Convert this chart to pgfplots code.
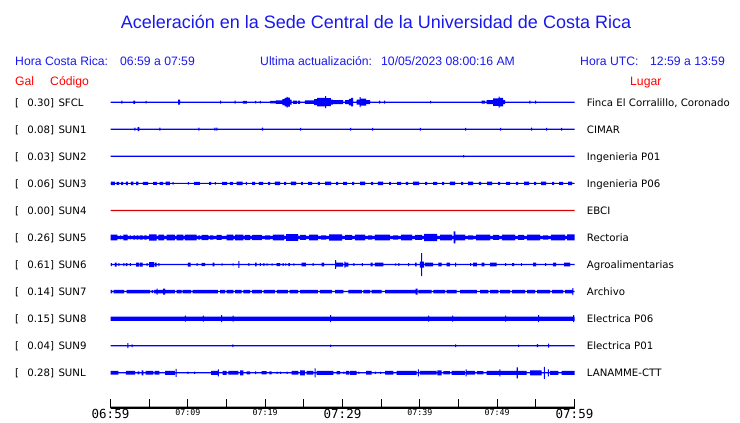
\documentclass[border=0pt]{standalone}
\usepackage{pgfplots}
\pgfplotsset{compat=1.18}
\usepackage{pgfplotstable}
\usepgfplotslibrary{fillbetween}
\usepackage{fontspec}
\setmainfont{DejaVu Sans}
\newfontfamily\lib{Liberation Sans}
\newfontfamily\dvm{DejaVu Sans Mono}
\definecolor{tb}{RGB}{0,0,255}
\definecolor{hb}{RGB}{25,25,235}
\definecolor{rd}{RGB}{255,0,0}
\definecolor{rl}{RGB}{215,0,0}

\pgfplotstableread{
t a
0 0.6
1.42 1.5
1.55 0.6
2.97 1.6
3.17 0.6
4.53 1.3
4.66 0.6
8.73 2.5
8.99 0.6
14.16 1.5
14.29 0.6
16.04 1.5
16.17 0.6
17.13 1.4
17.65 0.6
18.69 1.3
18.82 0.6
19.33 1.3
19.46 0.6
20.63 1.2
21.40 1.8
22.24 3.0
22.50 4.2
22.76 5.4
22.89 4.5
23.21 2.5
23.41 0.6
23.60 1.6
24.12 0.6
24.25 1.6
24.51 0.6
25.15 1.8
26.32 3.0
26.71 4.2
27.74 6.0
27.87 4.0
28.51 2.5
28.77 2.0
30.07 0.6
30.33 2.0
30.84 3.2
31.10 4.2
31.36 0.6
31.84 2.5
32.20 5.0
32.33 3.5
33.04 2.0
33.56 0.6
34.72 1.5
34.85 0.6
35.37 1.5
35.50 0.6
41.32 1.3
41.45 0.6
48.00 1.5
48.43 0.6
48.65 2.0
49.47 3.8
50.18 5.5
50.31 4.2
50.76 2.0
51.02 0.6
54.16 1.5
54.29 0.6
54.90 1.5
55.03 0.6
60 0.6
}\tSFCL

\pgfplotstableread{
t a
0 0.6
3.08 1.5
3.21 0.6
3.52 2.0
3.72 0.6
6.31 1.5
6.44 0.6
11.35 1.5
11.48 0.6
13.42 1.5
13.55 0.6
13.68 1.5
13.81 0.6
19.59 1.5
19.72 0.6
24.51 1.3
24.64 0.6
30.97 1.3
31.10 0.6
33.82 1.3
33.95 0.6
40.02 1.3
40.15 0.6
45.85 1.3
45.98 0.6
50.37 1.3
50.50 0.6
54.38 1.5
54.51 0.6
56.32 1.3
56.45 0.6
58.26 1.3
58.39 0.6
60 0.6
}\tSUNa

\pgfplotstableread{
t a
0 0.6
45.59 1.2
45.72 0.6
60 0.6
}\tSUNb

\pgfplotstableread{
t a
0 0.6
0.06 1.8
0.58 0.6
0.80 1.5
1.10 0.6
1.36 1.5
1.62 0.6
2.00 1.8
2.26 0.6
2.65 1.8
2.97 0.6
3.30 1.8
3.62 0.6
4.20 1.6
4.85 0.6
5.50 1.6
6.01 0.6
6.34 1.5
6.79 0.6
7.14 1.8
7.69 0.6
8.02 1.3
8.15 0.6
10.02 1.3
10.15 0.6
10.80 1.6
11.57 0.6
12.74 1.5
13.00 0.6
13.51 1.3
13.64 0.6
14.42 1.6
15.07 0.6
15.45 1.5
15.84 0.6
16.32 1.8
17.10 0.6
17.52 1.5
17.65 0.6
18.30 1.6
18.69 0.6
19.20 1.6
19.72 0.6
20.37 1.5
20.63 0.6
21.27 1.7
21.92 0.6
22.44 1.5
22.70 0.6
23.34 1.7
23.99 0.6
24.64 1.5
24.89 0.6
25.54 1.6
26.06 0.6
26.83 1.5
27.09 0.6
27.74 1.8
28.52 0.6
29.16 1.5
29.42 0.6
30.07 1.6
30.58 0.6
31.23 1.5
31.49 0.6
32.27 1.7
32.91 0.6
33.69 1.5
33.95 0.6
34.59 1.7
35.24 0.6
36.02 1.5
36.27 0.6
37.05 1.6
37.57 0.6
38.21 1.5
38.47 0.6
39.12 1.7
39.90 0.6
40.67 1.5
40.93 0.6
41.71 1.6
42.22 0.6
42.87 1.5
43.13 0.6
43.90 1.7
44.55 0.6
45.33 1.5
45.59 0.6
46.23 1.7
46.88 0.6
47.65 1.5
47.91 0.6
48.69 1.7
49.34 0.6
50.11 1.5
50.37 0.6
51.15 1.6
51.66 0.6
52.44 1.5
52.70 0.6
53.47 1.7
54.12 0.6
54.77 1.5
55.03 0.6
55.67 1.7
56.32 0.6
57.10 1.5
57.35 0.6
58.00 1.6
58.52 0.6
59.16 1.7
59.68 0.6
60 0.6
}\tSUNc

\pgfplotstableread{
t a
0 0.6
60 0.6
}\tSUNd

\pgfplotstableread{
t a
0 1.0
60 1.0
}\tAXIS

\pgfplotstableread{
t a
0 2.8
0.88 1.6
1.23 2.0
1.36 1.6
1.66 2.9
2.22 1.6
2.52 2.0
2.65 1.6
2.95 2.1
3.17 1.6
3.39 2.1
3.60 1.6
3.81 2.1
4.16 1.6
4.37 2.2
4.68 1.6
4.98 3.1
5.97 1.6
6.18 2.8
6.92 1.6
7.27 2.8
8.34 1.6
8.56 2.8
9.41 1.6
9.63 2.8
11.15 1.6
11.35 2.1
11.57 1.6
11.79 2.7
12.65 1.6
12.87 2.2
13.29 1.6
13.73 2.5
14.38 1.6
15.03 2.8
15.88 1.6
16.10 2.8
17.17 1.6
17.39 2.7
18.04 1.6
18.30 2.7
19.59 1.6
19.98 2.2
20.63 1.6
21.01 2.8
22.44 1.6
22.70 3.3
24.25 1.6
24.51 2.5
25.28 1.6
25.67 2.8
26.83 1.6
27.22 2.2
27.87 1.6
28.26 3.1
29.94 1.6
30.33 2.5
31.23 1.6
31.62 2.8
32.91 1.6
33.30 2.2
33.82 1.6
34.20 2.8
36.14 1.6
36.53 2.2
37.18 1.6
37.57 2.8
38.99 1.6
39.38 2.5
40.28 1.6
40.54 3.6
42.22 1.6
42.61 2.8
44.16 1.6
44.36 6.0
44.61 2.8
45.85 1.6
46.23 2.2
46.88 1.6
47.27 2.8
49.08 1.6
49.47 2.5
50.24 1.6
50.63 2.8
52.31 1.6
52.70 2.5
53.47 1.6
53.86 2.8
55.54 1.6
55.93 2.2
56.58 1.6
56.97 2.8
58.78 1.6
59.03 3.0
60 3.0
}\tSUNe

\pgfplotstableread{
t a
0 0.6
0.04 1.5
0.17 0.6
0.58 2.0
0.80 0.6
1.01 1.3
1.14 0.6
1.66 1.5
1.79 0.6
2.00 1.5
2.17 0.6
2.52 1.3
2.65 0.6
3.30 2.0
3.69 0.6
3.81 2.0
4.16 0.6
4.68 1.3
4.81 0.6
4.98 2.5
5.63 0.6
5.75 2.0
5.97 0.6
6.18 1.5
6.31 0.6
10.02 2.0
10.37 0.6
11.15 1.3
11.28 0.6
11.79 1.6
12.22 0.6
13.22 1.8
13.42 0.6
14.38 1.2
14.51 0.6
15.80 1.2
15.93 0.6
16.53 3.3
16.66 0.6
17.82 1.3
17.95 0.6
18.69 1.8
18.91 0.6
19.33 1.3
19.46 0.6
19.76 1.5
19.89 0.6
20.20 1.2
20.33 0.6
20.85 1.2
20.98 0.6
21.49 1.5
21.92 0.6
22.27 1.5
22.40 0.6
22.57 1.2
22.70 0.6
22.99 1.5
23.21 0.6
23.64 1.2
23.77 0.6
24.73 1.8
25.28 0.6
26.15 1.3
26.28 0.6
27.31 1.8
27.61 0.6
29.03 4.3
29.16 2.0
30.07 0.6
30.24 3.0
30.37 0.6
30.42 2.0
30.75 0.6
31.40 1.3
31.53 0.6
32.49 1.5
32.62 0.6
33.65 1.8
33.91 0.6
34.20 1.8
35.28 0.6
36.79 1.2
36.92 0.6
37.22 1.3
37.35 0.6
38.47 1.5
38.60 0.6
39.38 1.8
39.60 0.6
40.02 3.0
40.18 11.5
40.31 3.0
40.54 0.6
40.67 1.8
41.71 0.6
42.39 1.8
42.83 0.6
43.48 1.8
43.90 0.6
44.55 2.0
44.68 0.6
46.49 1.3
46.62 0.6
46.88 1.8
47.36 0.6
48.00 1.8
48.34 0.6
49.08 1.8
49.94 0.6
51.02 1.3
51.15 0.6
51.92 1.5
52.18 0.6
53.09 1.3
53.21 0.6
54.64 1.8
55.03 0.6
56.19 1.3
56.32 0.6
57.22 1.8
57.61 0.6
58.65 1.8
59.42 0.6
60 0.6
}\tSUNf

\pgfplotstableread{
t a
0 1.7
0.22 0.6
0.39 1.8
1.75 0.6
2.10 1.8
5.11 0.6
5.33 1.5
5.50 0.6
5.63 1.8
5.95 3.0
6.08 1.8
6.79 3.0
7.05 1.8
8.34 0.6
8.56 1.8
9.21 0.6
9.34 1.8
10.43 0.6
10.63 1.8
13.90 0.6
14.16 1.8
14.81 0.6
15.03 1.8
15.88 0.6
16.10 1.8
16.97 0.6
17.17 1.8
18.04 0.6
18.30 1.8
19.59 0.6
19.79 1.8
21.27 0.6
21.53 1.8
22.95 0.6
23.15 1.8
24.25 0.6
24.51 1.8
26.83 0.6
27.09 1.8
28.61 0.6
29.03 1.8
30.11 0.6
30.75 1.8
32.49 0.6
32.69 1.8
33.56 0.6
33.78 1.8
35.07 0.6
35.50 1.8
39.47 3.0
39.73 0.6
39.80 1.8
41.54 0.6
41.75 1.8
43.26 0.6
43.48 1.8
44.77 0.6
45.20 1.8
47.36 0.6
47.78 1.8
48.86 0.6
49.08 1.8
50.15 0.6
50.37 1.8
51.66 0.6
51.92 1.8
53.60 0.6
53.86 1.8
54.90 0.6
55.16 1.8
56.84 0.6
57.10 1.8
58.52 0.6
58.78 1.8
59.68 0.6
59.74 3.5
59.87 0.6
60 0.6
}\tSUNg

\pgfplotstableread{
t a
0 2.1
9.63 3.0
9.76 2.1
11.96 3.0
12.09 2.1
14.29 3.5
14.42 2.1
15.80 3.0
15.93 2.1
28.39 3.5
28.52 2.1
41.06 3.0
41.19 2.1
44.16 3.0
44.29 2.1
51.02 3.0
51.15 2.1
55.28 3.5
55.41 2.1
59.81 3.5
59.94 2.1
60 2.1
}\tSUNh

\pgfplotstableread{
t a
0 0.6
2.17 2.5
2.30 0.6
2.74 1.3
2.87 0.6
15.75 1.3
15.88 0.6
28.39 1.2
28.52 0.6
44.55 1.3
44.68 0.6
52.70 1.2
52.83 0.6
55.15 1.5
55.28 0.6
56.58 2.0
56.71 0.6
60 0.6
}\tSUNi

\pgfplotstableread{
t a
0 1.8
1.01 0.6
2.00 1.8
3.17 0.6
3.52 1.5
3.72 0.6
4.03 2.5
4.24 0.6
4.55 1.8
5.53 0.6
5.72 1.8
6.31 0.6
7.05 2.0
8.34 0.6
8.41 4.0
8.54 0.6
9.93 1.2
10.06 0.6
10.80 1.2
10.93 0.6
13.00 2.0
13.90 3.5
14.03 0.6
14.51 2.0
15.03 0.6
15.23 1.8
16.53 0.6
16.75 2.5
17.17 0.6
17.61 1.5
18.04 0.6
18.69 1.3
18.82 0.6
19.55 1.6
20.20 0.6
20.54 1.5
20.85 0.6
21.49 1.2
21.62 0.6
21.92 1.2
22.05 0.6
22.79 1.2
22.92 0.6
23.43 1.8
24.29 0.6
24.51 2.5
25.15 0.6
25.37 1.8
26.23 0.6
26.38 4.5
26.51 0.6
26.67 2.0
28.81 0.6
29.25 1.6
29.68 0.6
30.11 1.2
30.24 0.6
30.45 1.8
30.88 0.6
30.97 2.0
31.84 0.6
32.05 1.2
32.18 0.6
33.04 1.8
33.78 0.6
34.20 1.2
34.33 0.6
34.85 1.2
34.98 0.6
35.50 1.8
36.57 0.6
37.01 2.0
39.60 0.6
39.74 3.5
39.87 0.6
40.02 1.8
42.18 0.6
42.26 2.5
42.83 0.6
43.04 1.6
43.90 0.6
44.12 2.0
45.84 0.6
45.91 3.5
46.04 0.6
46.06 1.8
47.14 0.6
47.36 1.6
48.21 0.6
48.65 2.0
50.28 3.5
50.41 2.0
52.53 5.5
52.67 0.6
52.70 2.0
53.82 0.6
54.25 2.5
55.76 0.6
56.03 6.0
56.16 0.6
56.55 3.5
56.68 0.6
56.84 2.0
57.91 0.6
58.35 2.0
60 2.0
}\tSUNL

\newcommand{\trace}[4]{%
  \addplot[draw=none, const plot, name path=u#1, forget plot] table[x=t, y expr={#2+\thisrow{a}/27.06}] {#3};
  \addplot[draw=none, const plot, name path=l#1, forget plot] table[x=t, y expr={#2-\thisrow{a}/27.06}] {#3};
  \addplot[fill=#4, draw=none, forget plot] fill between[of=u#1 and l#1];
}
\newcommand\bg[1]{{\dvm\fontsize{12.5}{14}\selectfont #1}}
\newcommand\sm[1]{\raisebox{3pt}{\dvm\fontsize{8.3}{9}\selectfont #1}}
\newcommand\lblf{\fontsize{10.2}{12}\selectfont}
\newcommand\hdf{\lib\fontsize{12.2}{14}\selectfont}

\begin{document}
\begin{tikzpicture}
\path (0,0) rectangle (740pt,423pt);
\node[anchor=base, inner sep=0pt, text=hb, font={\lib\fontsize{18}{20}\selectfont}] at (376pt,394.5pt) {Aceleración en la Sede Central de la Universidad de Costa Rica};
\node[anchor=base west, inner sep=0pt, text=hb, font=\hdf] at (15pt,357pt) {Hora Costa Rica:};
\node[anchor=base west, inner sep=0pt, text=hb, font=\hdf] at (120pt,357pt) {06:59 a 07:59};
\node[anchor=base west, inner sep=0pt, text=hb, font=\hdf] at (260pt,357pt) {Ultima actualización:};
\node[anchor=base west, inner sep=0pt, text=hb, font=\hdf] at (381pt,357pt) {10/05/2023 08:00:16 AM};
\node[anchor=base west, inner sep=0pt, text=hb, font=\hdf] at (580pt,357pt) {Hora UTC:};
\node[anchor=base west, inner sep=0pt, text=hb, font=\hdf] at (650pt,357pt) {12:59 a 13:59};
\node[anchor=base west, inner sep=0pt, text=rd, font=\hdf] at (15pt,337.5pt) {Gal};
\node[anchor=base west, inner sep=0pt, text=rd, font=\hdf] at (50pt,337.5pt) {Código};
\node[anchor=base west, inner sep=0pt, text=rd, font=\hdf] at (630pt,337.5pt) {Lugar};
\foreach \v/\c/\l [count=\i from 0] in {0.30/SFCL/{Finca El Corralillo, Coronado}, 0.08/SUN1/CIMAR, 0.03/SUN2/Ingenieria P01, 0.06/SUN3/Ingenieria P06, 0.00/SUN4/EBCI, 0.26/SUN5/Rectoria, 0.61/SUN6/Agroalimentarias, 0.14/SUN7/Archivo, 0.15/SUN8/Electrica P06, 0.04/SUN9/Electrica P01, 0.28/SUNL/LANAMME-CTT}{
  \pgfmathsetmacro\yy{316.6-27.06*\i}
  \node[anchor=base west, inner sep=0pt, font=\lblf] at (15pt,\yy pt) {[};
  \node[anchor=base east, inner sep=0pt, font=\lblf] at (54.3pt,\yy pt) {\v]};
  \node[anchor=base west, inner sep=0pt, font=\lblf] at (58.3pt,\yy pt) {\c};
  \node[anchor=base west, inner sep=0pt, font=\lblf] at (586.7pt,\yy pt) {\l};
}
\begin{axis}[
  at={(110.5pt,14.5pt)}, anchor=south west,
  scale only axis, width=464pt, height=318.5pt,
  xmin=0, xmax=60, ymin=-1.32, ymax=10.45,
  axis x line*=bottom, axis y line=none,
  axis line style={black, line width=1pt},
  ytick=\empty,
  xtick={0,5,...,60},
  xticklabels={{\bg{06:59}},{},{\sm{07:09}},{},{\sm{07:19}},{},{\bg{07:29}},{},{\sm{07:39}},{},{\sm{07:49}},{},{\bg{07:59}}},
  xticklabel style={anchor=base, inner sep=0pt, yshift=-10.5pt},
  tick align=inside, major tick length=9pt,
  tick style={black, line width=1pt},
  clip=false,
]
\trace{SFCL}{10}{\tSFCL}{tb}
\trace{SUNa}{9}{\tSUNa}{tb}
\trace{SUNb}{8}{\tSUNb}{tb}
\trace{SUNc}{7}{\tSUNc}{tb}
\trace{SUNd}{6}{\tSUNd}{rl}
\trace{SUNe}{5}{\tSUNe}{tb}
\trace{SUNf}{4}{\tSUNf}{tb}
\trace{SUNg}{3}{\tSUNg}{tb}
\trace{SUNh}{2}{\tSUNh}{tb}
\trace{SUNi}{1}{\tSUNi}{tb}
\trace{SUNL}{0}{\tSUNL}{tb}
\trace{AXIS}{-1.29}{\tAXIS}{black}
\end{axis}
\pgfresetboundingbox
\path[use as bounding box] (0,0) rectangle (740pt,423pt);
\end{tikzpicture}
\end{document}
